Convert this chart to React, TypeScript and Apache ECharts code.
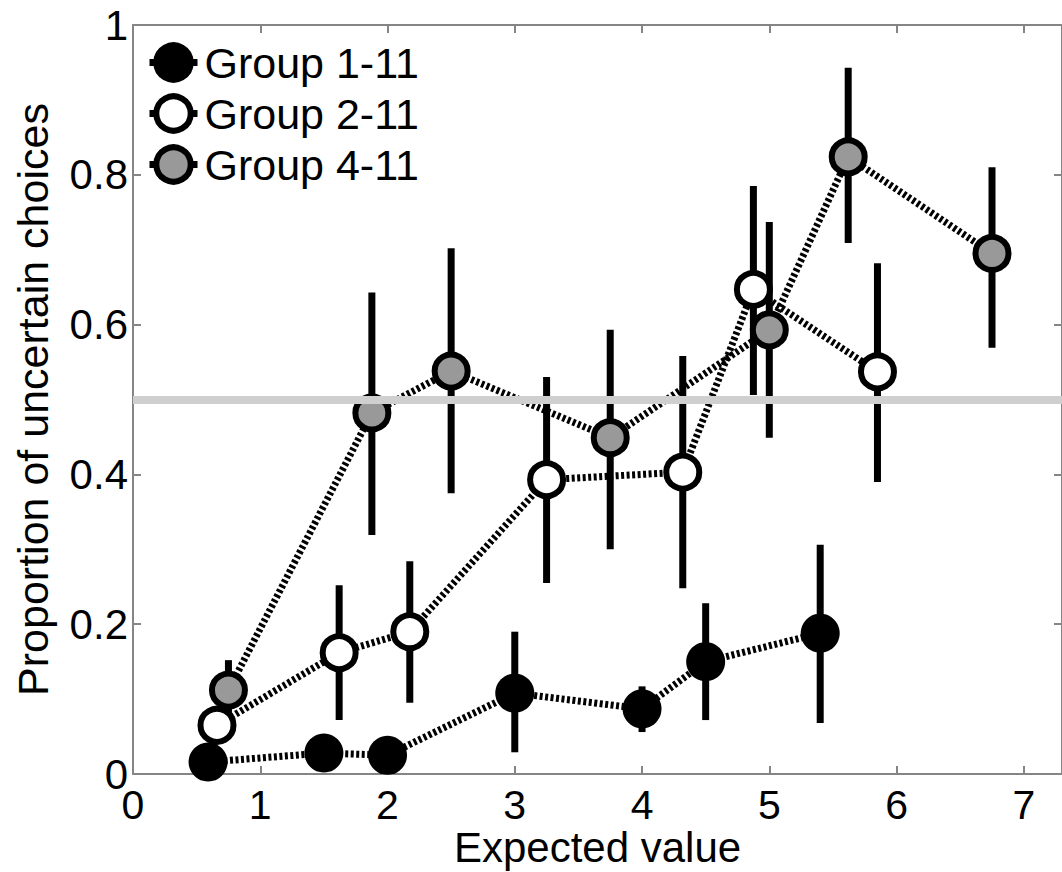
import React, { useEffect, useRef } from "react";
import * as echarts from "echarts";

// Expected value (x) and proportion of uncertain choices (y), with error-bar bounds
const GROUP_NAMES = ["Group 1-11", "Group 2-11", "Group 4-11"];

const EV_G1 = [0.59, 1.5, 2.0, 3.0, 4.0, 4.5, 5.4];
const P_G1 = [0.016, 0.028, 0.025, 0.108, 0.087, 0.15, 0.188];
const LO_G1 = [0.005, 0.018, 0.015, 0.029, 0.056, 0.072, 0.068];
const HI_G1 = [0.027, 0.038, 0.035, 0.19, 0.117, 0.228, 0.306];

const EV_G2 = [0.66, 1.62, 2.175, 3.25, 4.32, 4.875, 5.85];
const P_G2 = [0.065, 0.162, 0.19, 0.393, 0.403, 0.647, 0.537];
const LO_G2 = [0.05, 0.072, 0.095, 0.255, 0.248, 0.506, 0.39];
const HI_G2 = [0.08, 0.252, 0.284, 0.53, 0.558, 0.785, 0.682];

const EV_G4 = [0.75, 1.877, 2.5, 3.75, 5.0, 5.62, 6.75];
const P_G4 = [0.112, 0.482, 0.538, 0.449, 0.593, 0.824, 0.695];
const LO_G4 = [0.075, 0.319, 0.375, 0.3, 0.449, 0.709, 0.569];
const HI_G4 = [0.152, 0.643, 0.702, 0.593, 0.737, 0.943, 0.81];

const CHANCE_LEVEL = 0.5;

const FONT = "'Liberation Sans', Arial, sans-serif";
const AXIS_GRAY = "#858585";

export default function App() {
  const ref = useRef<HTMLDivElement>(null);

  useEffect(() => {
    const chart = echarts.init(ref.current as HTMLDivElement, null, { renderer: "svg" });

    const errSeries = (ev: number[], lo: number[], hi: number[]) => ({
      type: "custom",
      silent: true,
      z: 2,
      data: ev.map((x, i) => [x, lo[i], hi[i]]),
      encode: { x: 0, y: [1, 2] },
      renderItem: (_params: any, api: any) => {
        const p1 = api.coord([api.value(0), api.value(1)]);
        const p2 = api.coord([api.value(0), api.value(2)]);
        return {
          type: "line",
          shape: { x1: p1[0], y1: p1[1], x2: p2[0], y2: p2[1] },
          style: { stroke: "#000", lineWidth: 7 },
        };
      },
    });

    const lineSeries = (name: string, ev: number[], p: number[], fill: string, filled: boolean) => ({
      type: "line",
      name,
      z: 3,
      data: ev.map((x, i) => [x, p[i]]),
      symbol: "circle",
      symbolSize: filled ? 39 : 33,
      showSymbol: true,
      lineStyle: { color: "#000", width: 7, type: [3, 2.5] },
      itemStyle: { color: fill, borderColor: "#000", borderWidth: filled ? 0 : 6 },
      emphasis: { disabled: true },
    });

    const axisCommon = {
      axisLine: { show: true, onZero: false, lineStyle: { color: AXIS_GRAY, width: 2 } },
      axisTick: { show: true, inside: true, length: 8, lineStyle: { color: AXIS_GRAY, width: 2 } },
      splitLine: { show: false },
    };

    const option: any = {
      animation: false,
      backgroundColor: "#fff",
      textStyle: { fontFamily: FONT },
      grid: {
        left: 133,
        right: 0,
        top: 25,
        bottom: 98,
        show: false,
        containLabel: false,
        outerBoundsMode: "none",
      },
      legend: {
        data: GROUP_NAMES,
        orient: "vertical",
        left: 146,
        top: 41,
        padding: 0,
        itemWidth: 48,
        itemHeight: 43,
        itemGap: 8,
        itemStyle: { borderColor: "#000", borderWidth: 6 },
        lineStyle: { color: "#000", width: 7, type: "solid" },
        textStyle: { fontSize: 43, color: "#000", fontFamily: FONT, padding: [0, 0, 0, 2] },
        selectedMode: false,
      },
      xAxis: [
        {
          type: "value",
          min: 0,
          max: 7.3,
          interval: 1,
          position: "bottom",
          name: "Expected value",
          nameLocation: "middle",
          nameGap: 56,
          nameMoveOverlap: false,
          nameTextStyle: { fontSize: 42, lineHeight: 34, color: "#000", fontFamily: FONT },
          axisLabel: { fontSize: 41, lineHeight: 30, color: "#000", margin: 16, fontFamily: FONT },
          ...axisCommon,
        },
        {
          type: "value",
          min: 0,
          max: 7.3,
          interval: 1,
          position: "top",
          axisLabel: { show: false },
          ...axisCommon,
        },
      ],
      yAxis: [
        {
          type: "value",
          min: 0,
          max: 1,
          interval: 0.2,
          position: "left",
          name: "Proportion of uncertain choices",
          nameLocation: "middle",
          nameRotate: 90,
          nameGap: 79,
          nameMoveOverlap: false,
          nameTextStyle: { fontSize: 43, color: "#000", fontFamily: FONT },
          axisLabel: { fontSize: 42, lineHeight: 30, color: "#000", margin: 5, fontFamily: FONT },
          ...axisCommon,
        },
        {
          type: "value",
          min: 0,
          max: 1,
          interval: 0.2,
          position: "right",
          axisLabel: { show: false },
          ...axisCommon,
        },
      ],
      series: [
        {
          type: "line",
          name: "chance",
          z: 1,
          data: [],
          silent: true,
          markLine: {
            silent: true,
            symbol: ["none", "none"],
            label: { show: false },
            lineStyle: { color: "#cfcfcf", width: 8, type: "solid" },
            data: [{ yAxis: CHANCE_LEVEL }],
          },
        },
        errSeries(EV_G1, LO_G1, HI_G1),
        errSeries(EV_G2, LO_G2, HI_G2),
        errSeries(EV_G4, LO_G4, HI_G4),
        lineSeries(GROUP_NAMES[0], EV_G1, P_G1, "#000", true),
        lineSeries(GROUP_NAMES[1], EV_G2, P_G2, "#fff", false),
        lineSeries(GROUP_NAMES[2], EV_G4, P_G4, "#999", false),
      ],
    };

    chart.setOption(option);
    return () => chart.dispose();
  }, []);

  return (
    <div
      ref={ref}
      style={{ position: "absolute", left: 0, top: 0, width: 1062, height: 872, background: "#fff" }}
    />
  );
}
